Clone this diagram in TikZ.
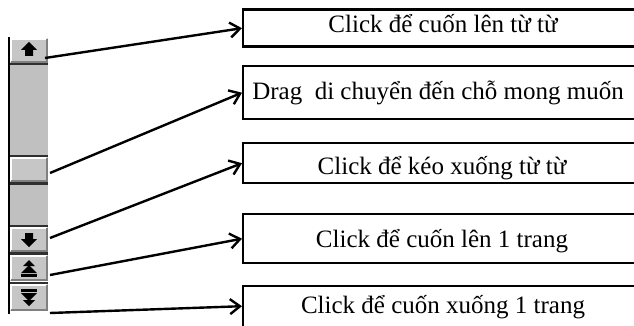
\documentclass[tikz,border=0pt]{standalone}
\usepackage{fontspec}
\setmainfont{Liberation Serif}
\usetikzlibrary{arrows.meta}
\definecolor{sbface}{HTML}{C6C6C6}
\definecolor{sbtrack}{HTML}{C0C0C0}
\definecolor{sbshade}{HTML}{808080}
\definecolor{sbedge}{HTML}{303030}
\tikzset{
  box/.style={draw=black, line width=2.4, minimum width=404, inner sep=0, anchor=north west},
  lbl/.style={font=\fontsize{25}{27}\selectfont, anchor=base, inner sep=0},
  pointer/.style={draw=black, line width=2.4, -{Straight Barb[length=10, width=15, line width=2.4]}},
  sep/.style={draw=sbedge, line width=2.2},
  glyph/.style={fill=black, draw=none}
}
% a raised scroll-bar button between two heights
\newcommand\sbbutton[2]{%
  \fill[sbface] (10,#1) rectangle (48,#2);
  \draw[white, line width=1.5] (11,#2-1) -- (11,#1+1) -- (47,#1+1);
  \draw[sbshade, line width=2] (11,#2-1) -- (47,#2-1) -- (47,#1+1);
}
\begin{document}
\begin{tikzpicture}[x=1pt, y=-1pt]
\useasboundingbox (0,0) rectangle (634,326);

% ---- scroll bar ----
\fill[sbtrack] (10,64) rectangle (48,227);
\sbbutton{38}{63}
\sbbutton{157}{182}
\sbbutton{227}{252}
\sbbutton{255}{281}
\sbbutton{284}{311}
\draw[sep] (10,64) -- (48,64);
\draw[sep] (10,156) -- (48,156);
\draw[sep] (10,183.5) -- (48,183.5);
\draw[sep] (10,226) -- (48,226);
\draw[sep] (10,253.5) -- (48,253.5);
\draw[sep] (10,283) -- (48,283);
\draw[black, line width=2.6] (9,37) -- (9,314);

% up arrow
\fill[glyph] (21,50) -- (29,42) -- (37,50) -- (33,50) -- (33,56) -- (25,56) -- (25,50) -- cycle;
% down arrow
\fill[glyph] (25,233) -- (33,233) -- (33,239) -- (37,239) -- (29,247) -- (21,239) -- (25,239) -- cycle;
% page up: two triangles over a bar
\fill[glyph] (23,266) -- (29,260) -- (35,266) -- cycle;
\fill[glyph] (21,273) -- (29,265) -- (37,273) -- cycle;
\fill[glyph] (21,274) rectangle (37,276.5);
% page down: a bar over two triangles
\fill[glyph] (21,289) rectangle (37,291.5);
\fill[glyph] (21,293) -- (37,293) -- (29,301) -- cycle;
\fill[glyph] (23,300) -- (35,300) -- (29,306) -- cycle;

% ---- description boxes ----
\node[box, minimum height=37] (b1) at (242,8.5) {};
\node[box, minimum height=53] (b2) at (242,65) {};
\node[box, minimum height=40] (b3) at (242,142) {};
\node[box, minimum height=49] (b4) at (242,213) {};
\node[box, minimum height=48] (b5) at (242,285) {};

\node[lbl] (t1) at (443,33) {Click để cuốn lên từ từ};
\node[lbl] (t2) at (438,100) {Drag\ \ di chuyển đến chỗ mong muốn};
\node[lbl] (t3) at (442,174) {Click để kéo xuống từ từ};
\node[lbl] (t4) at (442,247) {Click để cuốn lên 1 trang};
\node[lbl] (t5) at (443,313) {Click để cuốn xuống 1 trang};

% ---- pointers from the scroll-bar parts ----
\coordinate (s1) at (45,58);
\coordinate (s2) at (50,173);
\coordinate (s3) at (50,238);
\coordinate (s4) at (50,275);
\coordinate (s5) at (50,313);
\draw[pointer] (s1) -- (b1.west);
\draw[pointer] (s2) -- (b2.west);
\draw[pointer] (s3) -- (b3.west);
\draw[pointer] (s4) -- (b4.west);
\draw[pointer] (s5) -- ([yshift=4]b5.west);
\end{tikzpicture}
\end{document}
